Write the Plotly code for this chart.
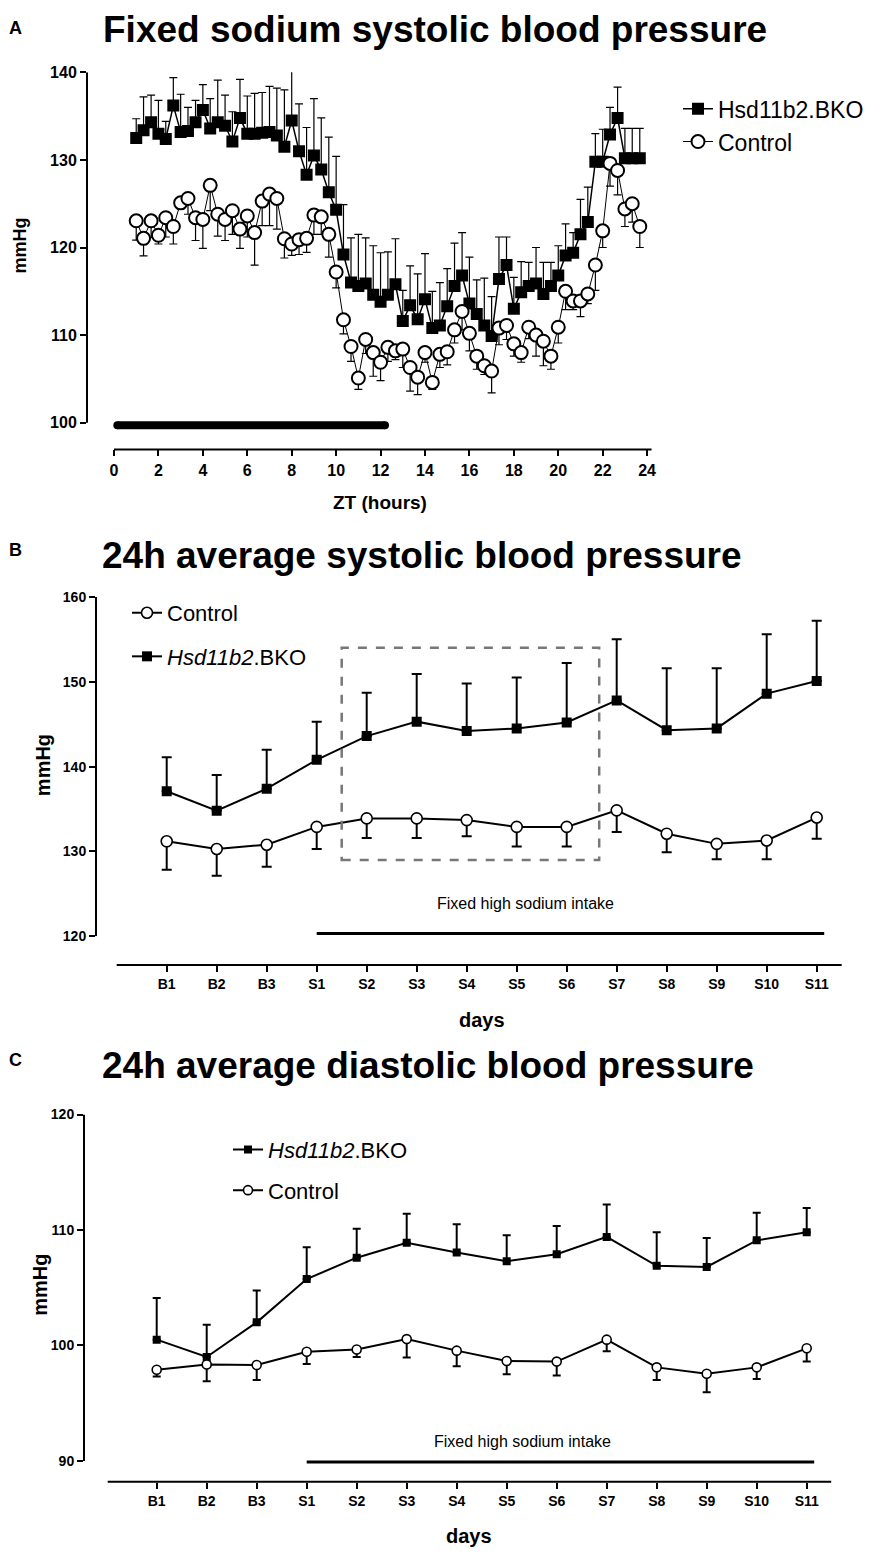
import plotly.graph_objects as go

W, H = 877, 1558
FONT = "Liberation Sans, Arial, sans-serif"


def px(x):
    return x / W


def py(y):
    return 1 - y / H


# ---------------- Panel A data (20-min bins, ZT hours) ----------------
zt_hours = [1.00, 1.33, 1.67, 2.00, 2.33, 2.67, 3.00, 3.33, 3.67, 4.00, 4.33, 4.67,
            5.00, 5.33, 5.67, 6.00, 6.33, 6.67, 7.00, 7.33, 7.67, 8.00, 8.33, 8.67,
            9.00, 9.33, 9.67, 10.00, 10.33, 10.67, 11.00, 11.33, 11.67, 12.00, 12.33, 12.67,
            13.00, 13.33, 13.67, 14.00, 14.33, 14.67, 15.00, 15.33, 15.67, 16.00, 16.33, 16.67,
            17.00, 17.33, 17.67, 18.00, 18.33, 18.67, 19.00, 19.33, 19.67, 20.00, 20.33, 20.67,
            21.00, 21.33, 21.67, 22.00, 22.33, 22.67, 23.00, 23.33, 23.67]

bko_sbp = [132.5, 133.4, 134.3, 133.0, 132.4, 136.2, 133.2, 133.3, 134.3, 135.7, 133.6, 134.3,
           133.9, 132.1, 134.8, 133.0, 133.0, 133.1, 133.2, 132.8, 131.5, 134.5, 131.0, 128.3,
           130.5, 128.9, 126.3, 124.3, 119.2, 116.0, 115.6, 115.9, 114.6, 113.8, 114.6, 115.8,
           111.6, 113.4, 111.8, 114.1, 110.8, 111.1, 113.3, 115.6, 116.8, 113.6, 112.4, 111.1,
           109.9, 116.4, 118.0, 113.0, 114.9, 115.6, 115.9, 114.7, 115.6, 116.8, 119.1, 119.4,
           121.5, 122.9, 129.8, 129.8, 132.9, 134.8, 130.2, 130.2, 130.2]
bko_sbp_sem = [2.2, 3.8, 3.1, 3.8, 2.0, 3.2, 4.3, 2.7, 2.5, 2.9, 3.4, 4.8,
               3.5, 3.4, 4.4, 4.3, 4.6, 4.6, 5.2, 5.4, 6.5, 7.5, 5.4, 5.4,
               6.5, 5.9, 6.3, 6.1, 5.7, 5.1, 5.9, 5.2, 5.6, 5.6, 4.9, 5.2,
               3.5, 4.5, 5.2, 5.2, 4.2, 4.9, 4.3, 4.9, 4.9, 5.3, 3.9, 5.4,
               4.5, 4.8, 3.2, 3.6, 3.5, 2.7, 4.1, 3.6, 2.7, 3.4, 3.6, 2.3,
               4.0, 4.0, 3.2, 3.7, 3.1, 3.5, 3.4, 3.4, 3.4]

ctrl_sbp = [123.05, 121.05, 123.05, 121.4, 123.4, 122.4, 125.1, 125.6, 123.4, 123.2, 127.1, 123.8,
            123.2, 124.2, 122.1, 123.6, 121.7, 125.3, 126.1, 125.6, 121.0, 120.4, 120.9, 121.05,
            123.7, 123.5, 121.5, 117.2, 111.75, 108.7, 105.1, 109.5, 108.0, 106.9, 108.6, 108.2,
            108.4, 106.3, 105.2, 108.0, 104.6, 107.8, 108.1, 110.6, 112.7, 110.2, 107.6, 106.5,
            105.9, 110.8, 111.1, 109.0, 108.0, 110.9, 110.0, 109.3, 107.6, 110.9, 115.0, 113.9,
            113.9, 114.7, 118.0, 121.9, 129.6, 128.8, 124.4, 125.0, 122.4]
ctrl_sbp_sem = [2.2, 2.0, 1.9, 1.0, 2.2, 2.0, 0.7, 1.8, 2.6, 3.3, 2.9, 2.5,
                2.4, 2.7, 2.2, 2.4, 3.7, 2.8, 3.6, 3.5, 2.2, 1.3, 1.7, 1.6,
                2.2, 2.0, 2.6, 1.8, 1.6, 1.7, 1.3, 1.6, 2.7, 2.1, 1.6, 1.0,
                2.1, 2.7, 2.0, 1.1, 0.8, 1.5, 1.5, 1.5, 2.1, 2.0, 1.5, 1.0,
                2.5, 1.9, 1.6, 1.4, 1.1, 1.3, 2.4, 2.8, 1.5, 1.8, 2.1, 1.0,
                1.8, 1.1, 2.9, 1.9, 2.6, 2.8, 2.0, 2.1, 2.4]

dark_phase_hours = [0.15, 12.2]
dark_phase_level = 99.7
zt_ticks = [0, 2, 4, 6, 8, 10, 12, 14, 16, 18, 20, 22, 24]
a_yticks = [100, 110, 120, 130, 140]

# ---------------- Panels B & C data ----------------
days = ["B1", "B2", "B3", "S1", "S2", "S3", "S4", "S5", "S6", "S7", "S8", "S9", "S10", "S11"]

bko_sys = [137.1, 134.8, 137.4, 140.8, 143.6, 145.3, 144.2, 144.5, 145.2, 147.8, 144.3, 144.5, 148.6, 150.1]
bko_sys_sem = [4.0, 4.2, 4.6, 4.5, 5.1, 5.6, 5.6, 6.0, 7.0, 7.2, 7.3, 7.1, 7.0, 7.1]
ctrl_sys = [131.2, 130.3, 130.8, 132.9, 133.9, 133.9, 133.7, 132.9, 132.9, 134.85, 132.1, 130.9, 131.3, 134.0]
ctrl_sys_sem = [3.35, 3.15, 2.6, 2.6, 2.3, 2.3, 1.9, 2.3, 2.3, 2.55, 2.2, 1.8, 2.2, 2.5]

bko_dia = [100.5, 99.0, 102.0, 105.75, 107.6, 108.9, 108.05, 107.3, 107.9, 109.4, 106.9, 106.8, 109.1, 109.8]
bko_dia_sem = [3.6, 2.8, 2.75, 2.75, 2.5, 2.5, 2.45, 2.25, 2.45, 2.8, 2.9, 2.5, 2.4, 2.1]
ctrl_dia = [97.9, 98.35, 98.3, 99.45, 99.65, 100.55, 99.55, 98.65, 98.6, 100.5, 98.1, 97.55, 98.1, 99.75]
ctrl_dia_sem = [0.6, 1.45, 1.3, 1.05, 0.65, 1.6, 1.35, 1.15, 1.2, 1.0, 1.1, 1.6, 1.0, 1.15]

b_yticks = [120, 130, 140, 150, 160]
c_yticks = [90, 100, 110, 120]
highlight_box = dict(x0=3.5, x1=8.65, y0=129.0, y1=154.0)
sodium_b_level = 120.35
sodium_c_level = 89.9
sodium_end = 13.15

fig = go.Figure()

# ---------- Panel A traces ----------
fig.add_trace(go.Scatter(
    x=dark_phase_hours, y=[dark_phase_level, dark_phase_level], mode="lines+markers",
    line=dict(color="black", width=8), marker=dict(color="black", size=8),
    showlegend=False, xaxis="x", yaxis="y", hoverinfo="skip"))
fig.add_trace(go.Scatter(
    x=zt_hours, y=bko_sbp, mode="lines+markers", name="Hsd11b2.BKO",
    line=dict(color="black", width=1.5),
    marker=dict(symbol="square", size=12, color="black"),
    error_y=dict(type="data", symmetric=False, array=bko_sbp_sem,
                 arrayminus=[0] * len(bko_sbp_sem), color="black", thickness=1.2, width=4),
    xaxis="x", yaxis="y", legend="legend"))
fig.add_trace(go.Scatter(
    x=zt_hours, y=ctrl_sbp, mode="lines+markers", name="Control",
    line=dict(color="black", width=1),
    marker=dict(symbol="circle", size=13, color="white", line=dict(color="black", width=2)),
    error_y=dict(type="data", symmetric=False, array=[0] * len(ctrl_sbp_sem),
                 arrayminus=ctrl_sbp_sem, color="black", thickness=1.2, width=4),
    xaxis="x", yaxis="y", legend="legend"))

# ---------- Panel B traces ----------
fig.add_trace(go.Scatter(
    x=days, y=bko_sys, mode="lines+markers", name="<i>Hsd11b2</i>.BKO",
    line=dict(color="black", width=2),
    marker=dict(symbol="square", size=10, color="black"),
    error_y=dict(type="data", symmetric=False, array=bko_sys_sem,
                 arrayminus=[0] * len(bko_sys_sem), color="black", thickness=2, width=5),
    xaxis="x2", yaxis="y2", legend="legend2", legendgroup="b_bko", legendrank=2))
fig.add_trace(go.Scatter(
    x=days, y=ctrl_sys, mode="lines+markers", name="Control",
    line=dict(color="black", width=2),
    marker=dict(symbol="circle", size=11, color="white", line=dict(color="black", width=1.6)),
    error_y=dict(type="data", symmetric=False, array=[0] * len(ctrl_sys_sem),
                 arrayminus=ctrl_sys_sem, color="black", thickness=2, width=5),
    xaxis="x2", yaxis="y2", legend="legend2", legendgroup="b_ctrl", legendrank=1))

# ---------- Panel C traces ----------
fig.add_trace(go.Scatter(
    x=days, y=bko_dia, mode="lines+markers", name="<i>Hsd11b2</i>.BKO",
    line=dict(color="black", width=2),
    marker=dict(symbol="square", size=8, color="black"),
    error_y=dict(type="data", symmetric=False, array=bko_dia_sem,
                 arrayminus=[0] * len(bko_dia_sem), color="black", thickness=2, width=4),
    xaxis="x3", yaxis="y3", legend="legend3", legendgroup="c_bko"))
fig.add_trace(go.Scatter(
    x=days, y=ctrl_dia, mode="lines+markers", name="Control",
    line=dict(color="black", width=2),
    marker=dict(symbol="circle", size=9, color="white", line=dict(color="black", width=1.6)),
    error_y=dict(type="data", symmetric=False, array=[0] * len(ctrl_dia_sem),
                 arrayminus=ctrl_dia_sem, color="black", thickness=2, width=4),
    xaxis="x3", yaxis="y3", legend="legend3", legendgroup="c_ctrl"))


def tfont(size, bold=True, family=FONT):
    return dict(family=family, size=size, color="black", weight="bold" if bold else "normal")


common_ax = dict(showgrid=False, zeroline=False, showline=False, ticks="outside",
                 tickcolor="black", tickwidth=2, ticklen=6)

layout = dict(
    width=W, height=H, margin=dict(l=0, r=0, t=0, b=0),
    paper_bgcolor="white", plot_bgcolor="white", showlegend=True,
    # Panel A
    xaxis=dict(domain=[px(87), px(656)], range=[-1.216, 24.4], anchor="free", position=py(446),
               tickvals=zt_ticks, tickfont=tfont(16), **common_ax),
    yaxis=dict(domain=[py(427.85), py(65)], range=[99.0, 140], anchor="x",
               tickvals=a_yticks, tickfont=tfont(16), **common_ax),
    # Panel B
    xaxis2=dict(domain=[px(96), px(850)], range=[-1.414, 13.666], anchor="free", position=py(967),
                type="category", categoryarray=days, tickfont=tfont(14), **common_ax),
    yaxis2=dict(domain=[py(938), py(595)], range=[120, 160], anchor="x2",
                tickvals=b_yticks, tickfont=tfont(14), **common_ax),
    # Panel C
    xaxis3=dict(domain=[px(84), px(845)], range=[-1.454, 13.766], anchor="free", position=py(1489),
                type="category", categoryarray=days, tickfont=tfont(14), **common_ax),
    yaxis3=dict(domain=[py(1473.8), py(1118)], range=[89.5, 120], anchor="x3",
                tickvals=c_yticks, tickfont=tfont(14), **common_ax),
    legend=dict(x=px(678), y=py(80), xanchor="left", yanchor="top", font=tfont(23, False),
                bgcolor="rgba(0,0,0,0)", traceorder="normal"),
    legend2=dict(x=px(127), y=py(590), xanchor="left", yanchor="top", font=tfont(22, False),
                 bgcolor="rgba(0,0,0,0)", traceorder="grouped", tracegroupgap=12),
    legend3=dict(x=px(228), y=py(1132.4), xanchor="left", yanchor="top", font=tfont(22, False),
                 bgcolor="rgba(0,0,0,0)", traceorder="grouped", tracegroupgap=9),
)
fig.update_layout(**layout)

shapes = [
    # Panel A axis lines
    dict(type="line", xref="paper", yref="y", x0=px(87), x1=px(87), y0=a_yticks[0], y1=a_yticks[-1],
         line=dict(color="black", width=2)),
    dict(type="line", xref="x", yref="paper", x0=zt_ticks[0], x1=zt_ticks[-1] + 0.2, y0=py(446), y1=py(446),
         line=dict(color="black", width=2)),
    # Panel B axis lines
    dict(type="line", xref="paper", yref="y2", x0=px(96), x1=px(96), y0=b_yticks[0], y1=b_yticks[-1],
         line=dict(color="black", width=2)),
    dict(type="line", xref="x2", yref="paper", x0=-1.0, x1=13.5, y0=py(967), y1=py(967),
         line=dict(color="black", width=2)),
    # Panel C axis lines
    dict(type="line", xref="paper", yref="y3", x0=px(84), x1=px(84), y0=c_yticks[0], y1=c_yticks[-1],
         line=dict(color="black", width=2)),
    dict(type="line", xref="x3", yref="paper", x0=-0.98, x1=13.49, y0=py(1489), y1=py(1489),
         line=dict(color="black", width=2)),
    # Sodium intake bars
    dict(type="line", xref="x2", yref="y2", x0=days.index("S1"), x1=sodium_end,
         y0=sodium_b_level, y1=sodium_b_level, line=dict(color="black", width=3)),
    dict(type="line", xref="x3", yref="y3", x0=days.index("S1"), x1=sodium_end,
         y0=sodium_c_level, y1=sodium_c_level, line=dict(color="black", width=3)),
    # Highlight box
    dict(type="rect", xref="x2", yref="y2", line=dict(color="#777777", width=2.5, dash="dash"),
         fillcolor="rgba(0,0,0,0)", **highlight_box),
]
fig.update_layout(shapes=shapes)


def ann(text, x, y, size, bold=True, angle=0, xanchor="center", family=FONT):
    return dict(text=text, x=px(x), y=py(y), xref="paper", yref="paper", showarrow=False,
                xanchor=xanchor, yanchor="middle", textangle=angle, font=tfont(size, bold, family))


annotations = [
    ann("A", 15, 20, 18), ann("B", 15, 548, 18), ann("C", 15, 1063, 18),
    ann("Fixed sodium systolic blood pressure", 101, 22, 37, xanchor="left"),
    ann("24h average systolic blood pressure", 100, 553, 37, xanchor="left"),
    ann("24h average diastolic blood pressure", 100, 1068, 37, xanchor="left"),
    ann("mmHg", 20, 240, 18, angle=-90),
    ann("mmHg", 43, 765, 20, angle=-90),
    ann("mmHg", 40, 1290, 20, angle=-90),
    ann("ZT (hours)", 380, 500, 19),
    ann("days", 482, 1022, 20),
    ann("days", 469, 1544, 20),
    ann("Fixed high sodium intake", 525, 905, 16, bold=False),
    ann("Fixed high sodium intake", 522, 1448, 16, bold=False),
]
fig.update_layout(annotations=annotations)

# Remove the browser's default 8px body margin so the figure sits at the page origin.
fig.write_html("out.html", config={"displayModeBar": False},
               post_script="document.body.style.margin='0px';document.body.style.overflow='hidden';")
